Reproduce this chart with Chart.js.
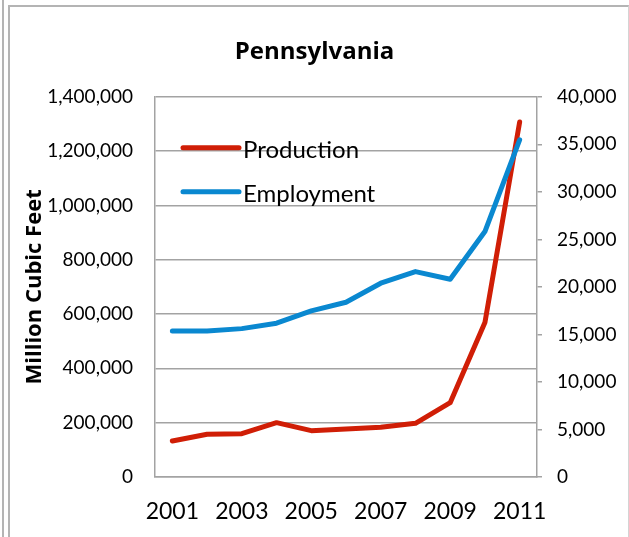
<!DOCTYPE html>
<html>
<head>
<meta charset="utf-8">
<script src="https://cdn.jsdelivr.net/npm/chart.js@4"></script>
<style>
  body { margin: 0; background: #fff; }
  #edge { position: absolute; left: 2px; top: 0; width: 2px; height: 537px; background: #b4b4b4; }
  #frame { position: absolute; left: 8px; top: 5px; width: 618px; height: 540px;
           border-left: 2px solid #b4b4b4; border-top: 2px solid #b4b4b4; border-right: 1px solid #d4d4d4; }
  #myChart { position: absolute; left: 0; top: 0; }
</style>
</head>
<body>
<div id="edge"></div>
<div id="frame"></div>
<canvas id="myChart" width="629" height="537"></canvas>
<script>
const years = ['2001', '2002', '2003', '2004', '2005', '2006', '2007', '2008', '2009', '2010', '2011']
const production = [132600, 157300, 159500, 200000, 170600, 176800, 183000, 197800, 273700, 568500, 1307000]
const employment = [15370, 15370, 15610, 16180, 17470, 18390, 20390, 21610, 20810, 25820, 35470]
const leftTicks = [0, 200000, 400000, 600000, 800000, 1000000, 1200000, 1400000]
const rightTicks = [0, 5000, 10000, 15000, 20000, 25000, 30000, 35000, 40000]

const gridGrey = '#a3a3a3'
const fam = 'Lato, "Open Sans", sans-serif'
const boldFam = '"Open Sans", Lato, sans-serif'

function withCommas(v) {
    return String(v).replace(/\B(?=(\d{3})+(?!\d))/g, ',')
}

// legend sits inside the plot, top-left
const innerLegend = {
    id: 'innerLegend',
    afterDatasetsDraw(chart) {
        const ctx = chart.ctx
        const area = chart.chartArea
        const x0 = area.left + 28
        const rows = [area.top + 51, area.top + 95]
        ctx.save()
        ctx.font = '24px ' + fam
        ctx.textBaseline = 'middle'
        chart.data.datasets.forEach((ds, i) => {
            const y = rows[i]
            ctx.strokeStyle = ds.borderColor
            ctx.lineWidth = 5
            ctx.lineCap = 'round'
            ctx.beginPath()
            ctx.moveTo(x0, y)
            ctx.lineTo(x0 + 56, y)
            ctx.stroke()
            ctx.fillStyle = '#000'
            ctx.fillText(ds.label, x0 + 60, y + 2)
        })
        ctx.restore()
    }
}

const chartie = document.getElementById('myChart')

new Chart(chartie, {
    type: 'line',
    data: {
        labels: years,
        datasets: [
            {
                label: 'Production',
                data: production,
                yAxisID: 'y',
                borderColor: '#d01e06',
                borderWidth: 5,
                pointRadius: 0,
                borderCapStyle: 'round',
                borderJoinStyle: 'round',
                order: 1
            },
            {
                label: 'Employment',
                data: employment,
                yAxisID: 'y2',
                borderColor: '#0a88d0',
                borderWidth: 5,
                pointRadius: 0,
                borderCapStyle: 'round',
                borderJoinStyle: 'round',
                order: 0
            }
        ]
    },
    options: {
        responsive: false,
        animation: false,
        devicePixelRatio: 1,
        layout: { padding: 0 },
        plugins: {
            legend: { display: false },
            tooltip: { enabled: false },
            title: {
                display: true,
                text: 'Pennsylvania',
                color: '#000',
                font: { family: boldFam, size: 24, weight: 'bold' },
                padding: { top: 38, bottom: 30 }
            }
        },
        scales: {
            x: {
                offset: true,
                grid: { display: false, drawTicks: false },
                border: { display: true, color: gridGrey, width: 1.5 },
                ticks: {
                    autoSkip: false,
                    maxRotation: 0,
                    padding: 21,
                    color: '#000',
                    font: { family: fam, size: 23 },
                    callback: function (val, i) { return i % 2 === 0 ? years[i] : '' }
                },
                afterFit: function (scale) { scale.height = 60 }
            },
            y: {
                position: 'left',
                min: 0,
                max: 1400000,
                afterBuildTicks: function (scale) { scale.ticks = leftTicks.map(v => ({ value: v })) },
                grid: { color: gridGrey, lineWidth: 1.5, drawTicks: false },
                border: { display: true, color: gridGrey, width: 1.5 },
                ticks: {
                    padding: 22,
                    color: '#000',
                    font: { family: fam, size: 19 },
                    callback: function (v) { return withCommas(v) }
                },
                title: {
                    display: true,
                    text: 'Million Cubic Feet',
                    color: '#000',
                    font: { family: boldFam, size: 22, weight: 'bold' },
                    padding: { top: 22, bottom: 0 }
                },
                afterFit: function (scale) { scale.width = 155 }
            },
            y2: {
                position: 'right',
                min: 0,
                max: 40000,
                afterBuildTicks: function (scale) { scale.ticks = rightTicks.map(v => ({ value: v })) },
                grid: { drawOnChartArea: false, color: gridGrey, lineWidth: 1.5, tickLength: 5 },
                border: { display: true, color: gridGrey, width: 1.5 },
                ticks: {
                    padding: 15,
                    color: '#000',
                    font: { family: fam, size: 19 },
                    callback: function (v) { return withCommas(v) }
                },
                afterFit: function (scale) { scale.width = 92 }
            }
        }
    },
    plugins: [innerLegend]
})
</script>
</body>
</html>
